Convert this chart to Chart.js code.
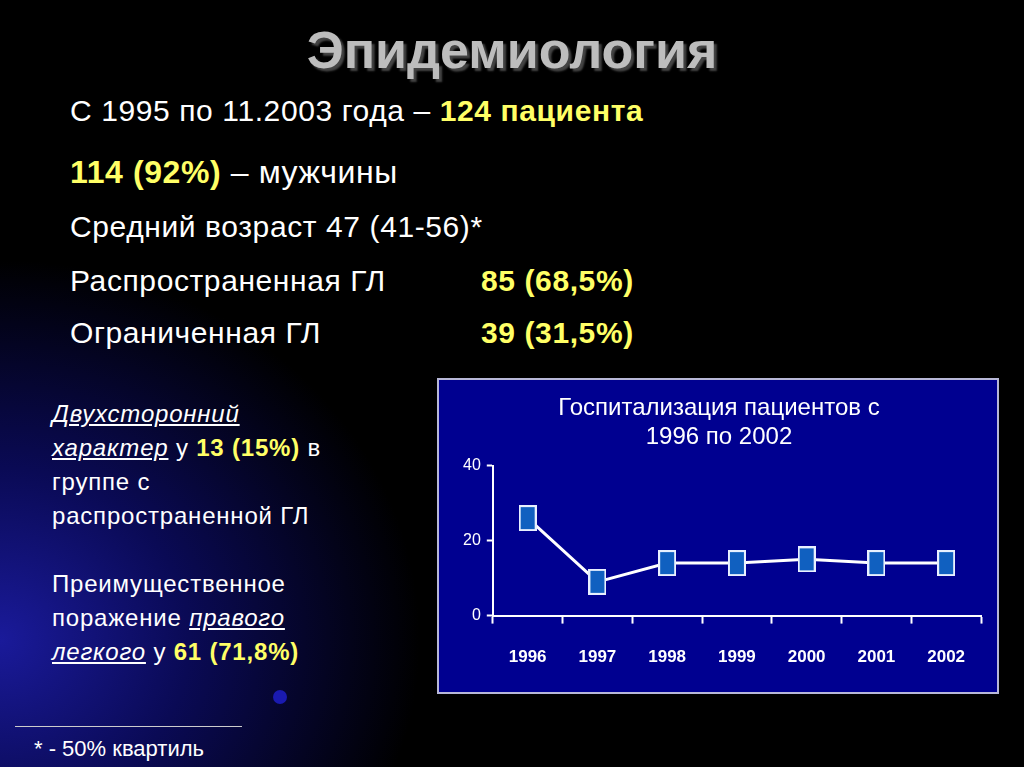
<!DOCTYPE html><html><head><meta charset="utf-8">
<script src="https://cdn.jsdelivr.net/npm/chart.js@4"></script>
<style>
body{margin:0;width:1024px;height:767px;overflow:hidden;font-family:Arial,"Liberation Sans",sans-serif;color:#fff;
background:radial-gradient(ellipse 420px 380px at 0px 640px,#1a1a9a 0%,#0a0a55 45%,#000 100%);background-color:#000;position:relative}
.t{position:absolute;white-space:nowrap}
.y{color:#ffff66;font-weight:bold}
.b{font-size:30px;letter-spacing:0.6px}
#box{position:absolute;left:437px;top:378px;width:558px;height:312px;background:#000090;border:2px solid #b8b8d8}
u{text-decoration:underline}
</style></head><body>
<div class="t" style="left:0;width:1024px;text-align:center;top:20px;font-size:52px;font-weight:bold;color:#bdbdbd;text-shadow:3px 3px 2px #444">Эпидемиология</div>
<div class="t b" style="left:70px;top:94px">С 1995 по 11.2003 года – <span class="y">124 пациента</span></div>
<div class="t b" style="left:70px;top:154px;font-size:32px"><span class="y">114 (92%)</span> – мужчины</div>
<div class="t b" style="left:70px;top:210px">Средний возраст 47 (41-56)*</div>
<div class="t b" style="left:70px;top:264px">Распространенная ГЛ</div>
<div class="t y b" style="left:481px;top:264px">85 (68,5%)</div>
<div class="t b" style="left:70px;top:316px">Ограниченная ГЛ</div>
<div class="t y b" style="left:481px;top:316px">39 (31,5%)</div>
<div class="t" style="left:52px;top:397px;font-size:24px;letter-spacing:0.8px;line-height:34px">
<i><u>Двухсторонний</u></i><br><i><u>характер</u></i> у <span class="y">13 (15%)</span> в<br>группе с<br>распространенной ГЛ<br><br>
Преимущественное<br>поражение <i><u>правого</u></i><br><i><u>легкого</u></i> у <span class="y">61 (71,8%)</span></div>
<div class="t" style="left:15px;top:726px;width:227px;border-top:1px solid #ccc"></div>
<div class="t" style="left:34px;top:736px;font-size:22px">* - 50% квартиль</div>
<div class="t" style="left:273px;top:690px;width:14px;height:14px;border-radius:50%;background:#1a1ab0"></div>
<div id="box"><canvas id="c" width="558" height="312"></canvas></div>
<script>
const years=["1996","1997","1998","1999","2000","2001","2002"];
const patients=[26,9,14,14,15,14,14];
const yTicks=[0,20,40];
const m=document.createElement('canvas');m.width=18;m.height=26;
const g=m.getContext('2d');g.fillStyle='#e8f0ff';g.fillRect(0,0,18,26);g.fillStyle='#1060c0';g.fillRect(2,2,14,22);
new Chart(document.getElementById('c'),{type:'line',
data:{labels:years,datasets:[{data:patients,borderColor:'#fff',borderWidth:3,pointStyle:m,pointRadius:10,tension:0}]},
options:{responsive:false,animation:false,
layout:{padding:{left:18,right:16,top:2,bottom:0}},
plugins:{legend:{display:false},tooltip:{enabled:false},
title:{display:true,text:['Госпитализация пациентов с','1996 по 2002'],color:'#fff',font:{size:24,weight:'normal',family:'Arial'},padding:{top:12,bottom:14},lineHeight:1.25}},
scales:{
x:{offset:true,grid:{offset:true,drawOnChartArea:false,color:'#fff',tickLength:8,tickWidth:2},border:{color:'#fff',width:2},
ticks:{color:'#fff',font:{size:17,weight:'bold',family:'Arial'},padding:24}},
y:{min:0,max:40,afterBuildTicks:a=>{a.ticks=yTicks.map(v=>({value:v}))},
grid:{drawOnChartArea:false,color:'#fff',tickLength:6,tickWidth:2},border:{color:'#fff',width:2},
ticks:{color:'#fff',font:{size:16,family:'Arial'},padding:6}}}}});
</script></body></html>
